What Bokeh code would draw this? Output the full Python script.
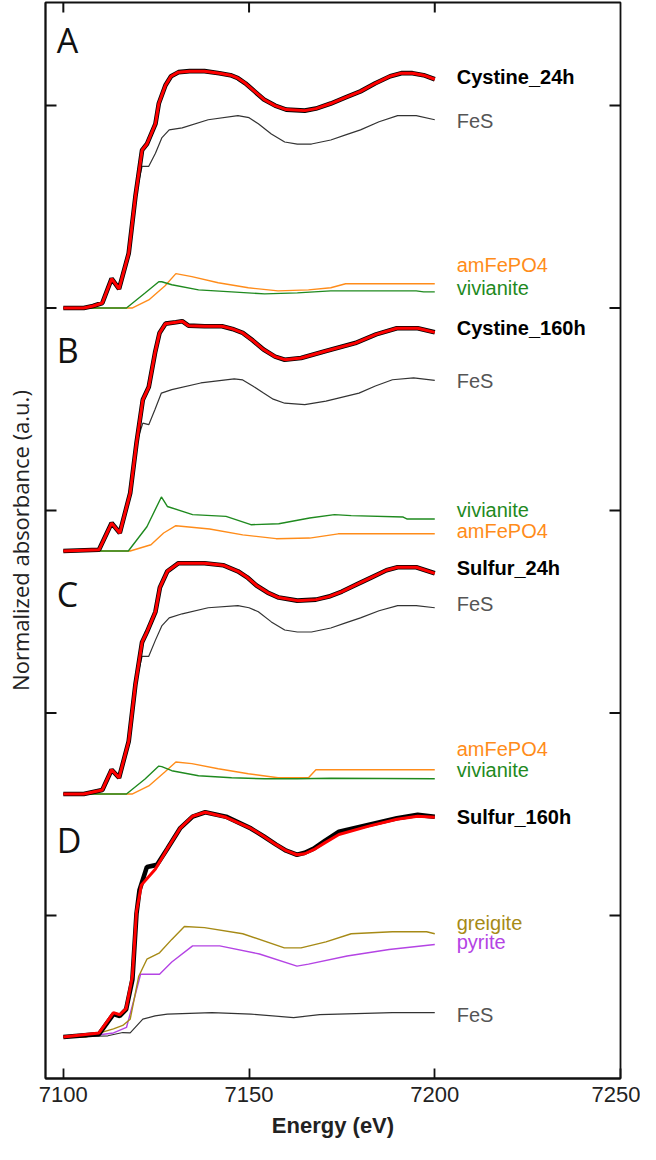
from bokeh.plotting import figure
from bokeh.models import Range1d, FixedTicker, Label
from bokeh.embed import file_html
from bokeh.resources import INLINE

# ---------------- data (normalized absorbance, relative to each panel's baseline) -------------
OFFSET_A, OFFSET_B, OFFSET_C, OFFSET_D = 4.0, 2.8, 1.6, 0.4

# Panel A  (Cystine_24h)
A_main_E = [7100, 7105.5, 7108, 7110.5, 7113, 7115, 7117.6, 7119.4, 7121.2, 7122.5, 7124.8, 7125.7,
            7127.5, 7129, 7131, 7134, 7138, 7142, 7145, 7147, 7149, 7151.5, 7154, 7157, 7160, 7165,
            7168, 7172, 7176, 7180, 7184, 7188, 7191, 7194, 7197, 7200]
A_main = [0.0, 0.0, 0.01, 0.025, 0.145, 0.095, 0.27, 0.55, 0.78, 0.81, 0.91, 1.01,
          1.10, 1.145, 1.165, 1.17, 1.17, 1.16, 1.15, 1.135, 1.11, 1.07, 1.03, 1.0, 0.98, 0.975,
          0.985, 1.01, 1.04, 1.07, 1.11, 1.145, 1.16, 1.16, 1.15, 1.13]
A_fes_E = [7100, 7105.5, 7110.5, 7113, 7115, 7117.6, 7119.4, 7121.2, 7123, 7124.8, 7126.5, 7128.5, 7132,
           7139, 7147, 7150, 7152.5, 7156, 7159.6, 7163, 7166.8, 7172, 7176, 7180, 7185, 7190, 7195, 7200]
A_fes = [0.0, 0.0, 0.025, 0.145, 0.095, 0.27, 0.55, 0.70, 0.70, 0.765, 0.84, 0.88, 0.89,
         0.93, 0.95, 0.94, 0.91, 0.86, 0.82, 0.81, 0.81, 0.83, 0.855, 0.88, 0.92, 0.95, 0.95, 0.93]
A_am_E = [7100, 7118.5, 7123, 7127.4, 7130.3, 7134.6, 7141.7, 7149.8, 7157.8, 7166, 7172, 7176, 7200]
A_am = [0.0, 0.0, 0.04, 0.11, 0.17, 0.155, 0.125, 0.10, 0.085, 0.09, 0.10, 0.12, 0.12]
A_viv_E = [7100, 7117, 7122, 7125.7, 7126.5, 7129.2, 7136.4, 7145.3, 7154.2, 7163, 7172, 7195, 7197, 7200]
A_viv = [0.0, 0.0, 0.074, 0.13, 0.13, 0.115, 0.09, 0.08, 0.07, 0.075, 0.085, 0.085, 0.08, 0.08]

# Panel B  (Cystine_160h)
B_main_E = [7100, 7109.6, 7113, 7115.2, 7118, 7119.7, 7121.4, 7123, 7124.7, 7125.9, 7127.5, 7130.3,
            7132, 7133.7, 7138, 7142.7, 7145.5, 7148.3, 7151, 7153.9, 7157, 7159.6, 7164, 7170.7,
            7178.6, 7184.2, 7189.8, 7195.4, 7200]
B_main = [0.0, 0.006, 0.138, 0.089, 0.286, 0.533, 0.747, 0.81, 0.98, 1.077, 1.123, 1.13,
          1.135, 1.113, 1.11, 1.11, 1.097, 1.077, 1.04, 0.995, 0.96, 0.945, 0.953, 0.988,
          1.027, 1.07, 1.10, 1.10, 1.08]
B_fes_E = [7100, 7109.6, 7113, 7115.2, 7118, 7119.7, 7121.4, 7123, 7124.7, 7126.4, 7129.2, 7137,
           7146, 7148.3, 7151, 7153.9, 7156.5, 7159.6, 7165, 7170.7, 7179.6, 7184, 7188.6, 7194.3, 7200]
B_fes = [0.0, 0.006, 0.138, 0.089, 0.286, 0.533, 0.632, 0.624, 0.70, 0.78, 0.797, 0.83,
         0.85, 0.845, 0.815, 0.78, 0.75, 0.73, 0.723, 0.74, 0.78, 0.815, 0.846, 0.855, 0.843]
B_viv_E = [7100, 7117.5, 7122.5, 7126.4, 7128, 7134.8, 7143.8, 7150.5, 7158, 7166.3, 7173, 7177.5,
           7191.5, 7192.6, 7200]
B_viv = [0.0, 0.0, 0.12, 0.267, 0.22, 0.18, 0.171, 0.13, 0.135, 0.163, 0.18, 0.175, 0.168, 0.158, 0.158]
B_am_E = [7100, 7118, 7123.6, 7127, 7130.3, 7139.4, 7148.3, 7157.3, 7166.3, 7174, 7200]
B_am = [0.0, 0.0, 0.031, 0.089, 0.125, 0.109, 0.08, 0.061, 0.064, 0.085, 0.085]

# Panel C  (Sulfur_24h)
C_main_E = [7100, 7105.5, 7110.5, 7113, 7115, 7117.6, 7119.4, 7121.2, 7122.5, 7124.8, 7126, 7128,
            7131, 7138, 7143, 7147, 7149.5, 7152, 7155, 7158, 7163, 7168, 7171.5, 7175, 7179, 7183,
            7187, 7190, 7195, 7200]
C_main = [0.0, 0.0, 0.02, 0.12, 0.08, 0.26, 0.54, 0.75, 0.80, 0.90, 1.02, 1.10,
          1.14, 1.14, 1.13, 1.10, 1.07, 1.03, 0.995, 0.97, 0.955, 0.96, 0.975, 1.00, 1.035, 1.07,
          1.105, 1.12, 1.12, 1.09]
C_fes_E = [7100, 7105.5, 7110.5, 7113, 7115, 7117.6, 7119.4, 7121.2, 7123, 7124.8, 7126.5, 7128.5, 7132,
           7139, 7147, 7150, 7152.5, 7156, 7159.6, 7163, 7166.8, 7172, 7176, 7180, 7185, 7190, 7195, 7200]
C_fes = [0.0, 0.0, 0.02, 0.12, 0.08, 0.26, 0.54, 0.68, 0.68, 0.76, 0.83, 0.87, 0.89,
         0.92, 0.93, 0.92, 0.90, 0.85, 0.81, 0.80, 0.80, 0.82, 0.845, 0.87, 0.905, 0.93, 0.93, 0.92]
C_am_E = [7100, 7118.5, 7123, 7127.4, 7130.3, 7134.6, 7141.7, 7149.8, 7157.8, 7166, 7168, 7200]
C_am = [0.0, 0.0, 0.04, 0.11, 0.158, 0.15, 0.125, 0.10, 0.08, 0.08, 0.12, 0.12]
C_viv_E = [7100, 7117, 7122, 7125.7, 7126.5, 7129.2, 7136.4, 7145.3, 7154.2, 7163, 7172, 7200]
C_viv = [0.0, 0.0, 0.074, 0.138, 0.135, 0.115, 0.09, 0.08, 0.075, 0.075, 0.078, 0.075]

# Panel D  (Sulfur_160h)
D_main_E = [7100, 7109.6, 7113.5, 7115.2, 7116.9, 7118.6, 7119.7, 7120.5, 7122.5, 7125.2, 7128, 7131.4,
            7134.8, 7138.2, 7143.8, 7150.5, 7154, 7157.3, 7160, 7162.9, 7165, 7167.4, 7170.5, 7174.2,
            7182, 7189.8, 7195.4, 7200]
D_main = [0.0, 0.014, 0.113, 0.104, 0.136, 0.284, 0.61, 0.725, 0.84, 0.85, 0.93, 1.03,
          1.088, 1.11, 1.088, 1.03, 0.99, 0.95, 0.92, 0.90, 0.91, 0.93, 0.97, 1.014,
          1.047, 1.08, 1.097, 1.088]
D_fit_E = [7100, 7109.6, 7113.5, 7115.2, 7116.9, 7118.6, 7119.7, 7121, 7124.8, 7128, 7131.4, 7134.8,
           7138.2, 7143.8, 7150.5, 7154, 7157.3, 7160, 7162.9, 7165, 7167.4, 7170.5, 7174.2, 7182,
           7189.8, 7195.4, 7200]
D_fit = [0.0, 0.02, 0.12, 0.11, 0.14, 0.30, 0.62, 0.75, 0.83, 0.93, 1.03, 1.09,
         1.11, 1.085, 1.03, 0.99, 0.95, 0.92, 0.90, 0.905, 0.925, 0.96, 1.0, 1.04,
         1.075, 1.09, 1.085]
D_greig_E = [7100, 7106, 7113.5, 7116, 7118, 7120.3, 7122.5, 7125.9, 7129.2, 7132.6, 7138, 7148.3,
             7159.5, 7164, 7170.7, 7177.5, 7188.6, 7197.8, 7200]
D_greig = [0.0, 0.0, 0.04, 0.057, 0.088, 0.30, 0.384, 0.416, 0.482, 0.546, 0.54, 0.51,
           0.44, 0.44, 0.47, 0.51, 0.52, 0.52, 0.51]
D_pyr_E = [7100, 7105, 7113.5, 7117, 7119.1, 7120.8, 7125.9, 7129.2, 7134.8, 7142.1, 7152.8, 7162.9,
           7166, 7176.4, 7187.7, 7200]
D_pyr = [0.0, 0.0, 0.02, 0.047, 0.19, 0.31, 0.31, 0.37, 0.45, 0.45, 0.41, 0.35, 0.36, 0.40, 0.432, 0.457]
D_fes_E = [7100, 7112, 7116, 7118, 7121.4, 7124.7, 7128, 7140, 7150.5, 7162, 7169, 7188.6, 7200]
D_fes = [0.0, 0.006, 0.022, 0.02, 0.088, 0.104, 0.113, 0.12, 0.113, 0.096, 0.11, 0.12, 0.12]

X_TICKS = [7100, 7150, 7200, 7250]
Y_TICKS = [1, 2, 3, 4, 5]

# ---------------- styles -------------
C_DATA = "#000000"
C_FIT = "#ff0000"
C_FES = "#333333"
C_AM = "#ff8c1a"
C_VIV = "#1f8a1f"
C_GREIG = "#a68a16"
C_PYR = "#b444e4"
C_FES_TXT = "#555555"
C_FRAME = "#111111"

X0, X1 = 7095.2, 7250
Y0, Y1 = 0.195, 5.509
W, H = 640, 1144
BL, BR, BT, BB = 45, 20, 2, 66

p = figure(width=W, height=H, output_backend="svg", toolbar_location=None,
           x_range=Range1d(X0, X1), y_range=Range1d(Y0, Y1),
           min_border_left=BL, min_border_right=BR, min_border_top=BT, min_border_bottom=BB,
           background_fill_color="white", border_fill_color="white")
p.grid.visible = False
p.outline_line_color = C_FRAME
p.outline_line_width = 1.8


def shift(vals, off):
    return [v + off for v in vals]


def comp(E, vals, off, color, w=1.4):
    p.line(E, shift(vals, off), line_color=color, line_width=w)


def main(E, vals, off, Ef=None, fit=None):
    p.line(E, shift(vals, off), line_color=C_DATA, line_width=4.6)
    if fit is None:
        Ef, fit = E, vals
    p.line(Ef, shift(fit, off), line_color=C_FIT, line_width=3.0)


# Panel A
comp(A_am_E, A_am, OFFSET_A, C_AM)
comp(A_viv_E, A_viv, OFFSET_A, C_VIV)
comp(A_fes_E, A_fes, OFFSET_A, C_FES, 1.2)
main(A_main_E, A_main, OFFSET_A)
# Panel B
comp(B_am_E, B_am, OFFSET_B, C_AM)
comp(B_viv_E, B_viv, OFFSET_B, C_VIV)
comp(B_fes_E, B_fes, OFFSET_B, C_FES, 1.2)
main(B_main_E, B_main, OFFSET_B)
# Panel C
comp(C_am_E, C_am, OFFSET_C, C_AM)
comp(C_viv_E, C_viv, OFFSET_C, C_VIV)
comp(C_fes_E, C_fes, OFFSET_C, C_FES, 1.2)
main(C_main_E, C_main, OFFSET_C)
# Panel D
comp(D_fes_E, D_fes, OFFSET_D, C_FES, 1.2)
comp(D_pyr_E, D_pyr, OFFSET_D, C_PYR)
comp(D_greig_E, D_greig, OFFSET_D, C_GREIG)
main(D_main_E, D_main, OFFSET_D, D_fit_E, D_fit)

# ---------------- axes -------------
for ax in p.xaxis:
    ax.ticker = FixedTicker(ticks=X_TICKS)
    ax.major_tick_in = 10
    ax.major_tick_out = 0
    ax.minor_tick_in = 0
    ax.minor_tick_out = 0
    ax.axis_line_width = 1.8
    ax.axis_line_color = C_FRAME
    ax.major_tick_line_width = 1.8
    ax.major_tick_line_color = C_FRAME
    ax.major_label_text_font = "Liberation Sans"
    ax.major_label_text_font_size = "22px"
    ax.major_label_text_color = "#222222"
    ax.major_label_standoff = 8
    ax.axis_label = "Energy (eV)"
    ax.axis_label_text_font = "Liberation Sans"
    ax.axis_label_text_font_style = "bold"
    ax.axis_label_text_font_size = "22px"
    ax.axis_label_text_color = "#222222"
    ax.axis_label_standoff = 8

for ax in p.yaxis:
    ax.ticker = FixedTicker(ticks=[])
    ax.major_tick_in = 0
    ax.major_tick_out = 0
    ax.minor_tick_in = 0
    ax.minor_tick_out = 0
    ax.axis_line_width = 1.8
    ax.axis_line_color = C_FRAME
    ax.major_label_standoff = 0
    ax.axis_label = "Normalized absorbance (a.u.)"
    ax.axis_label_text_font = "Open Sans"
    ax.axis_label_text_font_style = "normal"
    ax.axis_label_text_font_size = "22px"
    ax.axis_label_text_color = "#222222"
    ax.axis_label_standoff = 11

# inward ticks on the left, right and top frame edges, drawn as short segments
TICK_PX_Y, TICK_PX_X = 11, 10
dx = TICK_PX_Y * (X1 - X0) / (W - BL - BR)      # horizontal tick length in eV
dy = TICK_PX_X * (Y1 - Y0) / (H - BT - BB)      # vertical tick length in y units
ny, nx = len(Y_TICKS), len(X_TICKS) - 1
p.segment(x0=[X0] * ny, y0=Y_TICKS, x1=[X0 + dx] * ny, y1=Y_TICKS, line_color=C_FRAME, line_width=2)
p.segment(x0=[X1] * ny, y0=Y_TICKS, x1=[X1 - dx] * ny, y1=Y_TICKS, line_color=C_FRAME, line_width=2)
p.segment(x0=X_TICKS[:-1], y0=[Y1] * nx, x1=X_TICKS[:-1], y1=[Y1 - dy] * nx,
          line_color=C_FRAME, line_width=2)

# ---------------- labels -------------
LX = 7205.9


def lab(text, y, color, bold=False):
    p.add_layout(Label(x=LX, y=y, text=text, text_color=color, text_align="left",
                       text_baseline="middle", text_font="Liberation Sans",
                       text_font_size="20px", text_font_style="bold" if bold else "normal"))


lab("Cystine_24h", 5.143, "#000000", True)
lab("FeS", 4.926, C_FES_TXT)
lab("amFePO4", 4.215, C_AM)
lab("vivianite", 4.101, C_VIV)
lab("Cystine_160h", 3.899, "#000000", True)
lab("FeS", 3.642, C_FES_TXT)
lab("vivianite", 3.005, C_VIV)
lab("amFePO4", 2.901, C_AM)
lab("Sulfur_24h", 2.718, "#000000", True)
lab("FeS", 2.536, C_FES_TXT)
lab("amFePO4", 1.820, C_AM)
lab("vivianite", 1.721, C_VIV)
lab("Sulfur_160h", 1.484, "#000000", True)
lab("greigite", 0.965, C_GREIG)
lab("pyrite", 0.867, C_PYR)
lab("FeS", 0.511, C_FES_TXT)

for t, y in [("A", 5.326), ("B", 3.795), ("C", 2.59), ("D", 1.375)]:
    p.add_layout(Label(x=7098.2, y=y, text=t, text_color="#111111", text_align="left",
                       text_baseline="middle", text_font="Open Sans", text_font_size="34px"))

open("out.html", "w").write(file_html(p, INLINE))
